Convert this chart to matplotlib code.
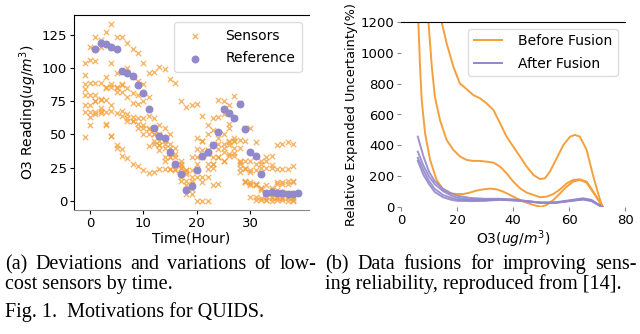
import numpy as np
import matplotlib
matplotlib.use('Agg')
from matplotlib import pyplot as plt

# ---- left panel: sensor readings over time ----
hours_sensor = list(range(-1, 39))
sensor_1 = [104, 116, 123, 121, 127, 133, 123, 123, 119, 114, 111, 104, 96, 97, 101, 99, 92, 89, 75, 71,
            72, 73, 64, 57, 62, 76, 75, 72, 79, 74, 55, 55, 44, 30, 33, 34, 42, 43, 44, 43]
sensor_2 = [95, 106, 105, 116, 93, 104, 96, 88, 100, 93, 90, 88, 78, 62, 57, 55, 50, 35, 28, 22,
            33, 47, 45, 50, 53, 63, 65, 58, 62, 46, 45, 30, 28, 25, 25, 27, 24, 24, 24, 26]
sensor_3 = [88, 89, 89, 89, 86, 88, 86, 87, 85, 81, 80, 75, 64, 55, 50, 45, 43, 40, 30, 20,
            18, 39, 45, 38, 43, 47, 50, 55, 47, 40, 30, 23, 23, 28, 30, 25, 14, 14, 15, 15]
sensor_4 = [84, 80, 80, 77, 85, 86, 85, 82, 78, 74, 73, 62, 55, 50, 45, 43, 40, 33, 27, 15,
            15, 33, 38, 35, 33, 43, 40, 45, 40, 28, 24, 22, 13, 10, 12, 10, 13, 13, 13, 14]
sensor_5 = [80, 72, 75, 76, 76, 72, 82, 68, 65, 63, 62, 55, 50, 45, 42, 40, 33, 28, 25, 12,
            9, 28, 33, 28, 28, 39, 43, 35, 45, 29, 25, 14, 13, 8, 6, 8, 8, 7, 6, 6]
sensor_6 = [72, 67, 67, 68, 67, 68, 66, 64, 60, 60, 58, 57, 54, 50, 42, 33, 33, 28, 15, 5,
            13, 18, 18, 18, 25, 13, 30, 34, 34, 25, 15, 12, 3, 2, 3, 3, 3, 2, 3, 2]
sensor_7 = [67, 63, 65, 66, 57, 49, 42, 39, 62, 60, 55, 50, 41, 43, 38, 30, 24, 24, 18, 23,
            5, 0, 0, 0, 28, 33, 30, 42, 36, 22, 14, 3, 1, 1, 1, 0, 1, 1, 0, 1]
sensor_8 = [48, 57, 75, 70, 58, 49, 40, 34, 32, 28, 26, 23, 21, 22, 24, 24, 24, 23, 25, 23,
            23, 23, 14, 24, 12, 33, 37, 44, 45, 30, 14, 13, 12, 10, 1, 2, 2, 2, 2, 0]
sensors = [sensor_1, sensor_2, sensor_3, sensor_4, sensor_5, sensor_6, sensor_7, sensor_8]

hours_ref = list(range(1, 40))
reference = [114, 119, 118, 116, 114, 98, 96, 94, 87, 81, 69, 55, 49, 47, 37, 28, 20, 8, 11, 23,
             34, 37, 42, 52, 69, 66, 62, 73, 54, 37, 34, 20, 6, 7, 6, 6, 5, 5, 6]

# ---- right panel: relative expanded uncertainty curves ----
before_1_x = [14.5, 16.3, 18.7, 21, 23.5, 25.8, 28.2, 30.6, 33, 35.4, 37.7, 40.1, 42.5, 44.9, 47.3,
              49.6, 51.4, 53.2, 55.6, 58, 60.4, 62.1, 63.9, 66.3, 68.7, 71.1, 72]
before_1_y = [1200, 1060, 909, 802, 763, 726, 705, 672, 629, 543, 457, 392, 328, 263, 209,
              183, 187, 231, 317, 403, 457, 468, 457, 371, 198, 47, 4]
before_2_x = [9.8, 11, 12.1, 13.9, 16.3, 18.7, 21.1, 23.5, 25.8, 28.2, 30.6, 33, 35.4, 37.7, 40.1,
              42.5, 44.9, 47.3, 49.6, 52, 54.4, 56.8, 59.2, 61.5, 63.9, 66.3, 68.7, 72]
before_2_y = [1200, 909, 715, 565, 435, 371, 328, 306, 300, 300, 295, 289, 263, 220, 166,
              123, 95, 80, 65, 69, 86, 116, 155, 177, 181, 166, 101, 4]
before_3_x = [6.2, 6.8, 7.4, 8.6, 10.4, 12.7, 15.1, 17.5, 19.9, 22.3, 24.6, 27, 29.4, 31.8, 34.2,
              36.5, 38.9, 41.3, 43.7, 46.1, 48.5, 50.2, 52, 54.4, 56.8, 59.2, 61.5, 63.9, 66.3, 68.7, 72]
before_3_y = [1200, 909, 694, 478, 306, 177, 112, 90, 86, 86, 95, 108, 116, 121, 116,
              101, 80, 58, 37, 22, 9, 4, 15, 47, 90, 134, 166, 177, 159, 95, 4]

after_x = [6, 8, 10, 12, 15, 18, 20, 25, 30, 35, 40, 45, 50, 55, 60, 65, 68, 72]
after_1_y = [457, 330, 230, 170, 120, 90, 75, 60, 55, 55, 50, 40, 30, 30, 40, 50, 40, 0]
after_2_y = [360, 270, 200, 150, 105, 75, 62, 50, 48, 50, 45, 38, 30, 30, 42, 55, 45, 0]
after_3_y = [320, 240, 170, 120, 80, 60, 50, 45, 45, 52, 50, 40, 30, 32, 45, 58, 48, 0]
after_4_y = [300, 210, 150, 100, 65, 48, 42, 40, 42, 48, 45, 38, 28, 28, 40, 52, 44, 0]

orange = '#f5a03c'
purple = '#9288cc'

plt.rcParams['font.family'] = 'DejaVu Sans'
fig = plt.figure(figsize=(6.4, 3.34), dpi=100)

# left axes
ax1 = fig.add_axes([74 / 640, 1 - 210 / 334, 235 / 640, 195 / 334])
for i, s in enumerate(sensors):
    ax1.scatter(hours_sensor, s, marker='x', s=15, linewidths=1.0, color=orange, alpha=0.75,
                label='Sensors' if i == 0 else None, zorder=2)
ax1.scatter(hours_ref, reference, marker='o', s=22, color=purple, label='Reference', zorder=3)
ax1.set_xticks([0, 10, 20, 30])
ax1.set_yticks([0, 25, 50, 75, 100, 125])
ax1.set_xlabel('Time(Hour)', fontsize=10, labelpad=1)
ax1.set_ylabel('O3 Reading($ug/m^3$)', fontsize=10, labelpad=2)
ax1.tick_params(labelsize=9.5, length=3, pad=2)
ax1.spines['right'].set_visible(False)
ax1.spines['bottom'].set_color('#888888')
ax1.legend(loc='upper right', fontsize=10, framealpha=1, edgecolor='#dddddd', borderpad=0.5,
           handletextpad=1.2, labelspacing=0.6)

# right axes
ax2 = fig.add_axes([401 / 640, 1 - 207.3 / 334, 224 / 640, 185.6 / 334])
for xs, ys in [(before_1_x, before_1_y), (before_2_x, before_2_y), (before_3_x, before_3_y)]:
    ax2.plot(xs, ys, color=orange, lw=1.4)
for ys in [after_1_y, after_2_y, after_3_y, after_4_y]:
    ax2.plot(after_x, ys, color=purple, lw=1.4, alpha=0.9)
ax2.plot([], [], color=orange, lw=1.4, label='Before Fusion')
ax2.plot([], [], color=purple, lw=1.4, label='After Fusion')
ax2.set_xlim(0, 80)
ax2.set_ylim(0, 1200)
ax2.set_xticks([0, 20, 40, 60, 80])
ax2.set_yticks([0, 200, 400, 600, 800, 1000, 1200])
ax2.set_xlabel('O3($ug/m^3$)', fontsize=10, labelpad=1)
ax2.set_ylabel('Relative Expanded Uncertainty(%)', fontsize=9.3, labelpad=2)
ax2.tick_params(labelsize=9.5, length=3, pad=2, color='#888888')
for side in ['left', 'bottom', 'right']:
    ax2.spines[side].set_visible(False)
ax2.legend(loc='upper right', fontsize=10, framealpha=1, edgecolor='#dddddd',
           handletextpad=1.2, labelspacing=0.6)

# captions (justified first lines)
renderer = fig.canvas.get_renderer()
cap_kw = dict(family='Liberation Serif', fontsize=14.5, va='baseline', ha='left')


def justified(words, x0, x1, y):
    texts = [fig.text(0, y, w, **cap_kw) for w in words]
    widths = [t.get_window_extent(renderer).width / fig.bbox.width for t in texts]
    gap = (x1 - x0 - sum(widths)) / (len(words) - 1)
    x = x0
    for t, w in zip(texts, widths):
        t.set_x(x)
        x += w + gap


justified('(a) Deviations and variations of low-'.split(), 5 / 640, 316 / 640, 1 - 269 / 334)
fig.text(5 / 640, 1 - 289 / 334, 'cost sensors by time.', **cap_kw)
justified('(b) Data fusions for improving sens-'.split(), 325 / 640, 637 / 640, 1 - 269 / 334)
fig.text(325 / 640, 1 - 289 / 334, 'ing reliability, reproduced from [14].', **cap_kw)
fig.text(5 / 640, 1 - 317 / 334, 'Fig. 1.  Motivations for QUIDS.', **cap_kw)

plt.savefig('out.png', dpi=100)
